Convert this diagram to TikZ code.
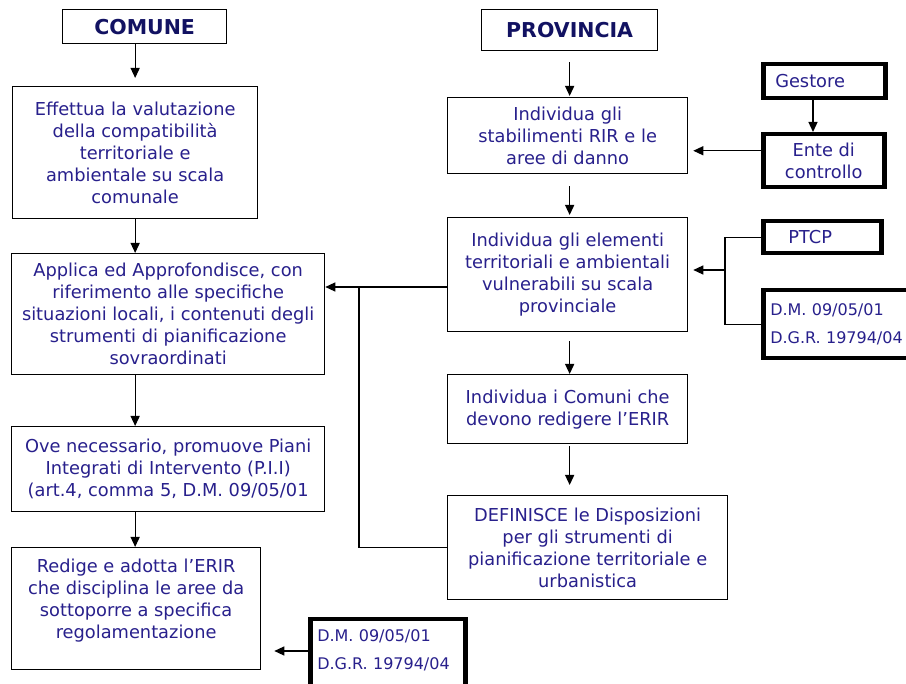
\documentclass[tikz,border=0pt]{standalone}
\usepackage{fontspec}
\setmainfont{DejaVu Sans}
\usetikzlibrary{arrows.meta}
\definecolor{testo}{RGB}{40,32,140}
\definecolor{titolo}{RGB}{18,18,98}

\begin{document}
\begin{tikzpicture}[
    x=1pt, y=-1pt,
    every node/.style={font=\fontsize{17.8}{22}\selectfont, text=testo},
    box/.style={draw, line width=1.3pt, align=center, anchor=north west, inner sep=0pt},
    titlebox/.style={box, font=\fontsize{20.5}{24}\selectfont\bfseries, text=titolo},
    thickbox/.style={draw, line width=4.5pt, anchor=north west, inner sep=0pt},
    normbox/.style={thickbox, align=left, inner xsep=7pt, font=\fontsize{16}{28}\selectfont},
    linea/.style={line width=1.3pt},
    freccia/.style={line width=1.3pt, -{Triangle[length=10pt,width=9pt]}}
]
\useasboundingbox (0,0) rectangle (906,684);
\fill[white] (0,0) rectangle (906,684);
\clip (0,0) rectangle (906,684);

% colonna comune
\node[titlebox, minimum width=164pt, minimum height=34pt] (comune) at (62,9) {COMUNE};
\node[box, minimum width=245pt, minimum height=132pt] (valuta) at (12,86)
    {Effettua la valutazione\\della compatibilità\\territoriale e\\ambientale su scala\\comunale};
\node[box, minimum width=313pt, minimum height=121pt] (applica) at (11,253)
    {Applica ed Approfondisce, con\\riferimento alle specifiche\\situazioni locali, i contenuti degli\\strumenti di pianificazione\\sovraordinati};
\node[box, minimum width=313pt, minimum height=85pt] (promuove) at (11,426)
    {Ove necessario, promuove Piani\\Integrati di Intervento (P.I.I)\\(art.4, comma 5, D.M. 09/05/01};
\node[box, minimum width=249pt, text height=91pt, text depth=31pt] (redige) at (11,547)
    {Redige e adotta l’ERIR\\che disciplina le aree da\\sottoporre a specifica\\regolamentazione};
\node[normbox, text width=141pt, text height=22pt, text depth=55pt] (normeC) at (308,617)
    {D.M. 09/05/01\\D.G.R. 19794/04};

% colonna provincia
\node[titlebox, minimum width=176pt, minimum height=41pt] (provincia) at (481,9) {PROVINCIA};
\node[box, minimum width=240pt, minimum height=76pt] (stabilimenti) at (447,97)
    {Individua gli\\stabilimenti RIR e le\\aree di danno};
\node[box, minimum width=240pt, minimum height=114pt] (elementi) at (447,217)
    {Individua gli elementi\\territoriali e ambientali\\vulnerabili su scala\\provinciale};
\node[box, minimum width=240pt, minimum height=69pt] (comuni) at (447,374)
    {Individua i Comuni che\\devono redigere l’ERIR};
\node[box, minimum width=280pt, minimum height=104pt] (definisce) at (447,495)
    {DEFINISCE le Disposizioni\\per gli strumenti di\\pianificazione territoriale e\\urbanistica};

% riquadri esterni
\node[thickbox, align=left, inner xsep=12pt, text width=98pt, minimum height=34pt] (gestore) at (761,62) {Gestore};
\node[thickbox, align=center, minimum width=121pt, minimum height=53pt] (ente) at (761,132) {Ente di\\controllo};
\node[thickbox, align=left, inner xsep=25pt, text width=68pt, minimum height=32pt] (ptcp) at (761,219) {PTCP};
\node[normbox, text width=156pt, minimum height=68pt] (normeP) at (761,288)
    {D.M. 09/05/01\\D.G.R. 19794/04};

% frecce comune
\draw[freccia, shorten >=8pt] (comune.south -| valuta.north) -- (valuta.north);
\draw[freccia] (valuta.south) -- (applica.north -| valuta.south);
\draw[freccia] (applica.south -| valuta.south) -- (promuove.north -| valuta.south);
\draw[freccia] (promuove.south -| valuta.south) -- (redige.north -| valuta.south);
\draw[freccia, shorten >=13pt] ([yshift=-34pt]normeC.north west) -- ([yshift=-34pt]normeC.north west -| redige.east);

% frecce provincia
\draw[freccia, shorten <=11pt, shorten >=1pt] (provincia.south) -- (stabilimenti.north -| provincia.south);
\draw[freccia, shorten <=12pt, shorten >=2pt] (stabilimenti.south -| provincia.south) -- (elementi.north -| provincia.south);
\draw[freccia, shorten <=9pt] (elementi.south -| provincia.south) -- (comuni.north -| provincia.south);
\draw[freccia, shorten <=2pt, shorten >=10pt] (comuni.south -| provincia.south) -- (definisce.north -| provincia.south);

% gestore ed ente
\draw[freccia] ([xshift=52pt]gestore.south west) -- ([xshift=52pt]gestore.south west |- ente.north);
\draw[freccia, shorten >=5pt] ([yshift=10pt]ente.west) -- ([yshift=10pt]ente.west -| stabilimenti.east);

% PTCP e norme
\coordinate (nodo) at (725,270);
\draw[linea] (ptcp.west) -| (nodo) |- (normeP.west);
\draw[freccia, shorten >=5pt] (nodo) -- (nodo -| elementi.east);

% ritorno verso il comune
\coordinate (giunto) at (359,287);
\draw[freccia] (elementi.west |- giunto) -- (applica.east |- giunto);
\draw[linea] (giunto) |- (definisce.west);

\end{tikzpicture}
\end{document}
